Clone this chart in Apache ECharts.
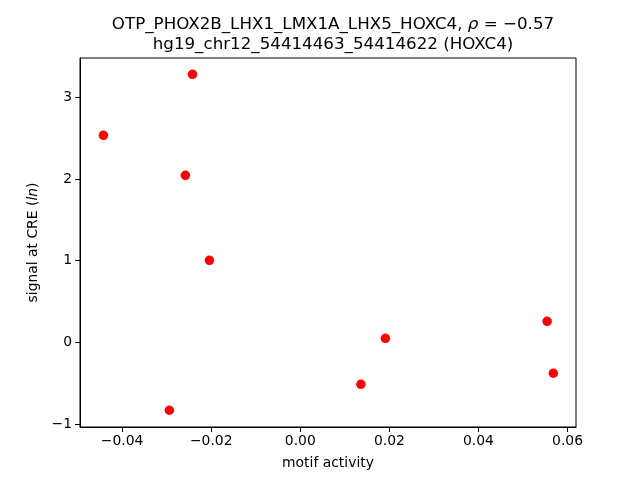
<!DOCTYPE html>
<html>
<head>
<meta charset="utf-8">
<script src="https://cdn.jsdelivr.net/npm/echarts@6/dist/echarts.min.js"></script>
<style>
  html, body { margin: 0; padding: 0; background: #fff; }
  #chart { width: 640px; height: 480px; }
</style>
</head>
<body>
<div id="chart"></div>
<script>
// motif activity vs signal at CRE
const motifActivity = [-0.0442, -0.0242, -0.0258, -0.0204, -0.0294, 0.0136, 0.0191, 0.0554, 0.0568];
const creSignal = [2.534, 3.280, 2.044, 1.004, -0.832, -0.514, 0.049, 0.257, -0.379];
const xTicks = [-0.04, -0.02, 0.00, 0.02, 0.04, 0.06];
const yTicks = [-1, 0, 1, 2, 3];

const FONT = 'DejaVu Sans';
const minus = s => s.replace('-', '\u2212');

const chart = echarts.init(document.getElementById('chart'));

const points = motifActivity.map((x, i) => [x, creSignal[i]]);

const option = {
    backgroundColor: '#fff',
    animation: false,
    textStyle: { fontFamily: FONT },
    title: [
        {
            text: 'OTP_PHOX2B_LHX1_LMX1A_LHX5_HOXC4, {i|\u03c1} = \u22120.57',
            left: 328,
            top: 11,
            textAlign: 'center',
            textStyle: {
                fontFamily: FONT,
                fontSize: 16.7,
                fontWeight: 'normal',
                color: '#000',
                rich: {
                    i: { fontFamily: FONT, fontSize: 16.7, fontStyle: 'italic', color: '#000' }
                }
            }
        },
        {
            text: 'hg19_chr12_54414463_54414622 (HOXC4)',
            left: 328,
            top: 31,
            textAlign: 'center',
            textStyle: { fontFamily: FONT, fontSize: 16.7, fontWeight: 'normal', color: '#000' }
        }
    ],
    grid: {
        left: 80,
        right: 64,
        top: 58,
        bottom: 53,
        show: true,
        borderColor: '#000',
        borderWidth: 1,
        containLabel: false
    },
    xAxis: {
        type: 'value',
        min: -0.04945,
        max: 0.06189,
        name: 'motif activity',
        nameLocation: 'middle',
        nameGap: 29,
        nameTextStyle: { fontFamily: FONT, fontSize: 13.9, color: '#000' },
        axisLine: { show: true, onZero: false, lineStyle: { color: '#000', width: 1 } },
        axisTick: { show: true, length: 5, customValues: xTicks, lineStyle: { color: '#000' } },
        axisLabel: {
            customValues: xTicks,
            color: '#000',
            fontSize: 13.9,
            margin: 7,
            formatter: v => minus(v.toFixed(2))
        },
        splitLine: { show: false }
    },
    yAxis: {
        type: 'value',
        min: -1.037,
        max: 3.48,
        name: 'signal at CRE ({i|ln})',
        nameLocation: 'middle',
        nameRotate: 90,
        nameGap: 40,
        nameTextStyle: {
            fontFamily: FONT,
            fontSize: 13.9,
            color: '#000',
            rich: { i: { fontFamily: FONT, fontSize: 13.9, fontStyle: 'italic', color: '#000' } }
        },
        axisLine: { show: true, onZero: false, lineStyle: { color: '#000', width: 1 } },
        axisTick: { show: true, length: 5, customValues: yTicks, lineStyle: { color: '#000' } },
        axisLabel: {
            customValues: yTicks,
            color: '#000',
            fontSize: 13.9,
            margin: 8,
            formatter: v => minus(String(v))
        },
        splitLine: { show: false }
    },
    series: [
        {
            type: 'scatter',
            data: points,
            symbol: 'circle',
            symbolSize: 9.5,
            itemStyle: { color: '#ff0000', opacity: 1 }
        }
    ]
};

chart.setOption(option);
</script>
</body>
</html>
